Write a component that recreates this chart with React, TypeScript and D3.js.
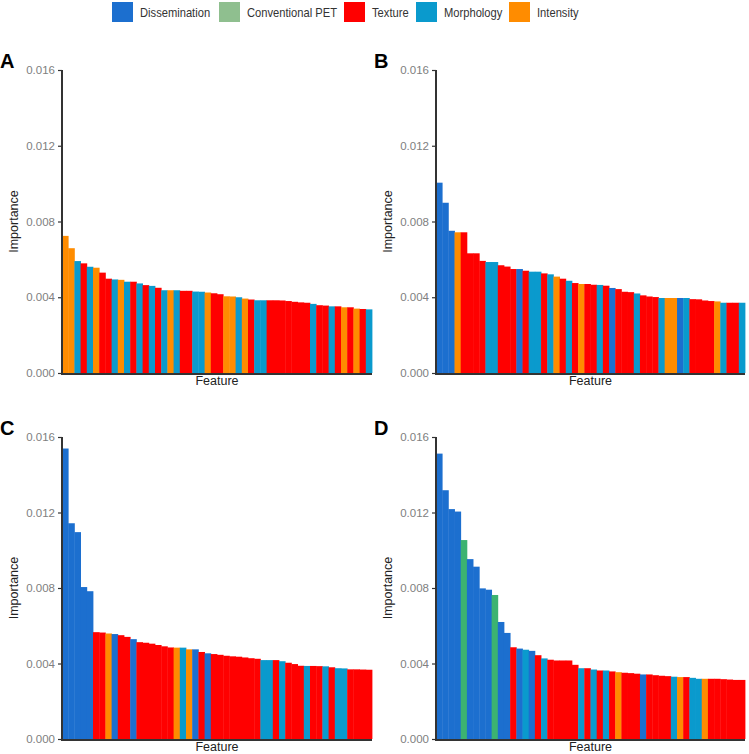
import React, { useRef, useEffect } from "react";
import { select, scaleBand, scaleLinear, axisLeft, format } from "d3";

// category codes: D = Dissemination, P = Conventional PET, T = Texture, M = Morphology, I = Intensity
const legendKeys = ["D", "P", "T", "M", "I"];
const legendLabels = ["Dissemination", "Conventional PET", "Texture", "Morphology", "Intensity"];
const yTicks = [0, 0.004, 0.008, 0.012, 0.016];

const typesA = ["I","I","M","T","M","I","T","T","M","I","M","T","M","T","M","T","M","I","M","T","T","M","M","I","T","T","I","I","M","I","T","M","M","T","T","T","T","T","T","T","M","T","T","M","T","I","T","I","T","M"];
const valuesA = [0.00724,0.00659,0.00591,0.00579,0.00561,0.00556,0.0053,0.00498,0.00494,0.00492,0.00482,0.00482,0.00473,0.00464,0.0046,0.0045,0.00437,0.00437,0.00437,0.00434,0.00434,0.0043,0.00429,0.00425,0.00421,0.00416,0.00405,0.00404,0.004,0.00393,0.00388,0.00384,0.00384,0.00384,0.00384,0.00383,0.0038,0.00376,0.00373,0.00371,0.00365,0.00358,0.00356,0.00352,0.00352,0.00347,0.00347,0.0034,0.00338,0.00336];

const typesB = ["D","D","D","I","T","T","T","T","M","M","T","T","T","D","T","M","M","T","M","I","T","M","T","I","T","T","M","T","D","T","T","T","M","T","T","T","M","I","I","D","M","T","T","T","T","I","M","T","T","M"];
const valuesB = [0.01005,0.00899,0.00751,0.00743,0.00743,0.00632,0.00632,0.00592,0.00586,0.00586,0.00569,0.00562,0.00549,0.00549,0.0054,0.00535,0.00535,0.00526,0.00521,0.00509,0.00498,0.00487,0.00475,0.0047,0.0047,0.00466,0.00465,0.00461,0.00449,0.00443,0.00429,0.00427,0.0042,0.0041,0.00404,0.00401,0.00396,0.00396,0.00396,0.00396,0.00396,0.0039,0.00389,0.00383,0.0038,0.00378,0.00371,0.00371,0.00371,0.00371];

const typesC = ["D","D","D","D","D","T","T","I","D","T","T","D","T","T","T","T","T","T","I","M","I","D","T","D","T","T","T","T","T","T","T","T","M","M","T","M","T","T","T","M","T","T","M","T","M","M","T","T","T","T"];
const valuesC = [0.01539,0.01143,0.01096,0.00805,0.00783,0.00566,0.00564,0.00559,0.00556,0.0055,0.00541,0.00529,0.00513,0.0051,0.00505,0.00498,0.00491,0.00485,0.00484,0.00484,0.00475,0.00475,0.00461,0.00454,0.0045,0.00446,0.00441,0.00438,0.00436,0.00432,0.00428,0.00425,0.00418,0.00418,0.00418,0.00412,0.00404,0.00397,0.00388,0.00387,0.00387,0.00386,0.00385,0.0038,0.00375,0.00374,0.00369,0.00369,0.00368,0.00367];

const typesD = ["D","D","D","D","P","D","D","D","D","P","D","D","T","D","M","D","T","M","T","T","T","T","T","M","T","M","T","M","T","I","T","T","T","D","T","T","T","T","M","I","T","M","M","I","T","T","T","T","T","T"];
const valuesD = [0.01512,0.01318,0.01218,0.01205,0.01054,0.00953,0.00913,0.00798,0.00791,0.00763,0.0062,0.00562,0.00486,0.00479,0.00473,0.00467,0.00444,0.00427,0.0042,0.00416,0.00416,0.00416,0.00393,0.00375,0.00375,0.00368,0.00363,0.00363,0.00358,0.00354,0.00351,0.00349,0.00346,0.00342,0.00342,0.00338,0.00335,0.00333,0.0033,0.00328,0.00328,0.00324,0.00319,0.00319,0.00319,0.00319,0.00317,0.00315,0.00313,0.00313];

const colors = { D: "#1c6fcf", P: "#3cb371", T: "#ff0000", M: "#0a9acd", I: "#ff8c00" };
const legendColors = { D: "#1c6fcf", P: "#8fbf8f", T: "#ff0000", M: "#0a9acd", I: "#ff8c00" };

const FONT = "'Liberation Sans', Arial, sans-serif";

const Panel = ({ label, types, values, left, right, top, bottom }) => {
    const axisRef = useRef();
    const x = scaleBand().domain(values.map((v, i) => i)).range([left, right]).padding(0);
    const y = scaleLinear().domain([0, 0.016]).range([bottom, top]);

    useEffect(() => {
        const g = select(axisRef.current);
        g.attr("transform", `translate(${left},0)`)
            .call(axisLeft(y).tickValues(yTicks).tickFormat(format(".3f")).tickSize(4).tickPadding(3));
        g.select(".domain").remove();
        g.selectAll(".tick line").attr("stroke", "#333").attr("stroke-width", 1.2);
        g.selectAll(".tick text")
            .attr("fill", "#808080")
            .style("font-family", FONT)
            .style("font-size", "11.5px");
    }, [types, values]);

    return (
        <g>
            {values.map((v, i) => (
                <rect key={i}
                    x={x(i)}
                    y={y(v)}
                    width={x.bandwidth() + 0.4}
                    height={y(0) - y(v)}
                    fill={colors[types[i]]} />
            ))}
            <g ref={axisRef} />
            <line x1={left} x2={left} y1={top} y2={bottom + 1} stroke="#333" strokeWidth={2} />
            <line x1={left - 1} x2={right} y1={bottom + 1} y2={bottom + 1} stroke="#333" strokeWidth={2} />
            <text x={left - 62} y={top - 2} fontFamily={FONT} fontWeight="bold" fontSize={20}>{label}</text>
            <text transform={`translate(${left - 44},${(top + bottom) / 2}) rotate(-90)`}
                textAnchor="middle" fontFamily={FONT} fontSize={12.5} fill="#222">Importance</text>
            <text x={(left + right) / 2} y={bottom + 11.5} textAnchor="middle"
                fontFamily={FONT} fontSize={12.5} fill="#222">Feature</text>
        </g>
    );
};

const Legend = () => {
    const xs = [112, 219, 344, 416, 509];
    return (
        <g>
            {legendKeys.map((k, i) => (
                <g key={k} transform={`translate(${xs[i]},2)`}>
                    <rect width={21} height={20} fill={legendColors[k]} />
                    <text transform="translate(28,15) scale(0.86,1)" fontFamily={FONT} fontSize={13} fill="#333">{legendLabels[i]}</text>
                </g>
            ))}
        </g>
    );
};

const App = () => {
    return (
        <div style={{ position: "absolute", left: 0, top: 0 }}>
            <svg width={749} height={754} style={{ display: "block", background: "#fff" }}>
                <Legend />
                <Panel label="A" types={typesA} values={valuesA} left={62} right={372} top={70} bottom={373} />
                <Panel label="B" types={typesB} values={valuesB} left={436} right={745} top={70} bottom={373} />
                <Panel label="C" types={typesC} values={valuesC} left={62} right={372} top={437} bottom={739} />
                <Panel label="D" types={typesD} values={valuesD} left={436} right={745} top={437} bottom={739} />
            </svg>
        </div>
    );
};

export default App;
